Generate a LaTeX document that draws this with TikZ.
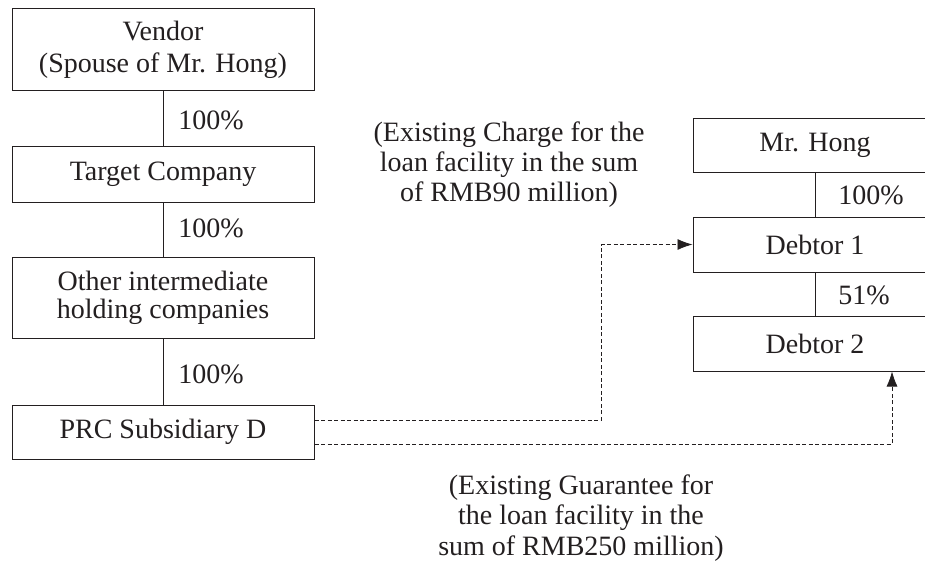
\documentclass[tikz,border=0pt]{standalone}
\usepackage{fontspec}
\setmainfont{Liberation Serif}
\usetikzlibrary{arrows.meta}

\definecolor{ink}{RGB}{35,31,32}

\tikzset{every picture/.style={line width=1pt}}
\tikzset{
  box/.style={draw=ink, text=ink, minimum width=302pt, align=center, inner sep=0.75pt, font=\fontsize{28}{28}\selectfont},
  rbox/.style={draw=ink, text=ink, minimum width=244pt, minimum height=55pt, inner sep=0.75pt, font=\fontsize{28}{28}\selectfont},
  pct/.style={anchor=west, text=ink, inner sep=0.75pt, font=\fontsize{28}{28}\selectfont},
  note/.style={text=ink, align=center, inner sep=0.75pt, font=\fontsize{28}{30}\selectfont},
  link/.style={draw=ink, line width=0.8pt, dash pattern={on 4pt off 2.5pt}, -{Latex[length=15pt,width=11pt]}}
}

\begin{document}
\begin{tikzpicture}[x=1pt,y=1pt,yscale=-1,xscale=1]
        \useasboundingbox (0,0) rectangle (925,560);

        %Shape: Rectangle [left column]
        \node [box, minimum height=82pt, font=\fontsize{28}{32}\selectfont] (vendor) at (163,49.5) {Vendor\\(Spouse of Mr. Hong)};
        \node [box, minimum height=56pt] (target) at (163,174) {Target Company};
        \node [box, minimum height=81pt] (other) at (163,297.5) {Other intermediate\\holding companies};
        \node [box, minimum height=54pt] (prc) at (163,432) {PRC Subsidiary D};

        %Shape: Rectangle [right column]
        \node [rbox, minimum height=54pt] (hong) at (815,145) {Mr. Hong};
        \node [rbox] (debtor1) at (815,244.5) {Debtor 1};
        \node [rbox] (debtor2) at (815,343.5) {Debtor 2};

        % Straight Lines
        \draw [ink] (vendor) -- (target);
        \draw [ink] (target) -- (other);
        \draw [ink] (other) -- (prc);
        \draw [ink] (hong) -- (debtor1);
        \draw [ink] (debtor1) -- (debtor2);

        % Text Node
        \node [pct] (pctvt) at (177,120) {100\%};
        \node [pct] (pctto) at (177,228) {100\%};
        \node [pct] (pctop) at (177,374) {100\%};
        \node [pct] (pcthd) at (837,195) {100\%};
        \node [pct] (pctdd) at (837,295) {51\%};

        %Dashed connectors
        \coordinate (bendcharge) at (601,420);
        \coordinate (bendguar) at (892,444);
        \draw [link] (prc.east |- bendcharge) -- (bendcharge) |- (debtor1.west);
        \draw [link] (prc.east |- bendguar) -- (bendguar) -- (bendguar |- debtor2.south);

        % Text Node
        \node [note] (charge) at (509,165) {(Existing Charge for the\\loan facility in the sum\\of RMB90 million)};
        % Text Node
        \node [note, font=\fontsize{28}{30.5}\selectfont] (guar) at (581,518) {(Existing Guarantee for\\the loan facility in the\\sum of RMB250 million)};

\end{tikzpicture}
\end{document}
